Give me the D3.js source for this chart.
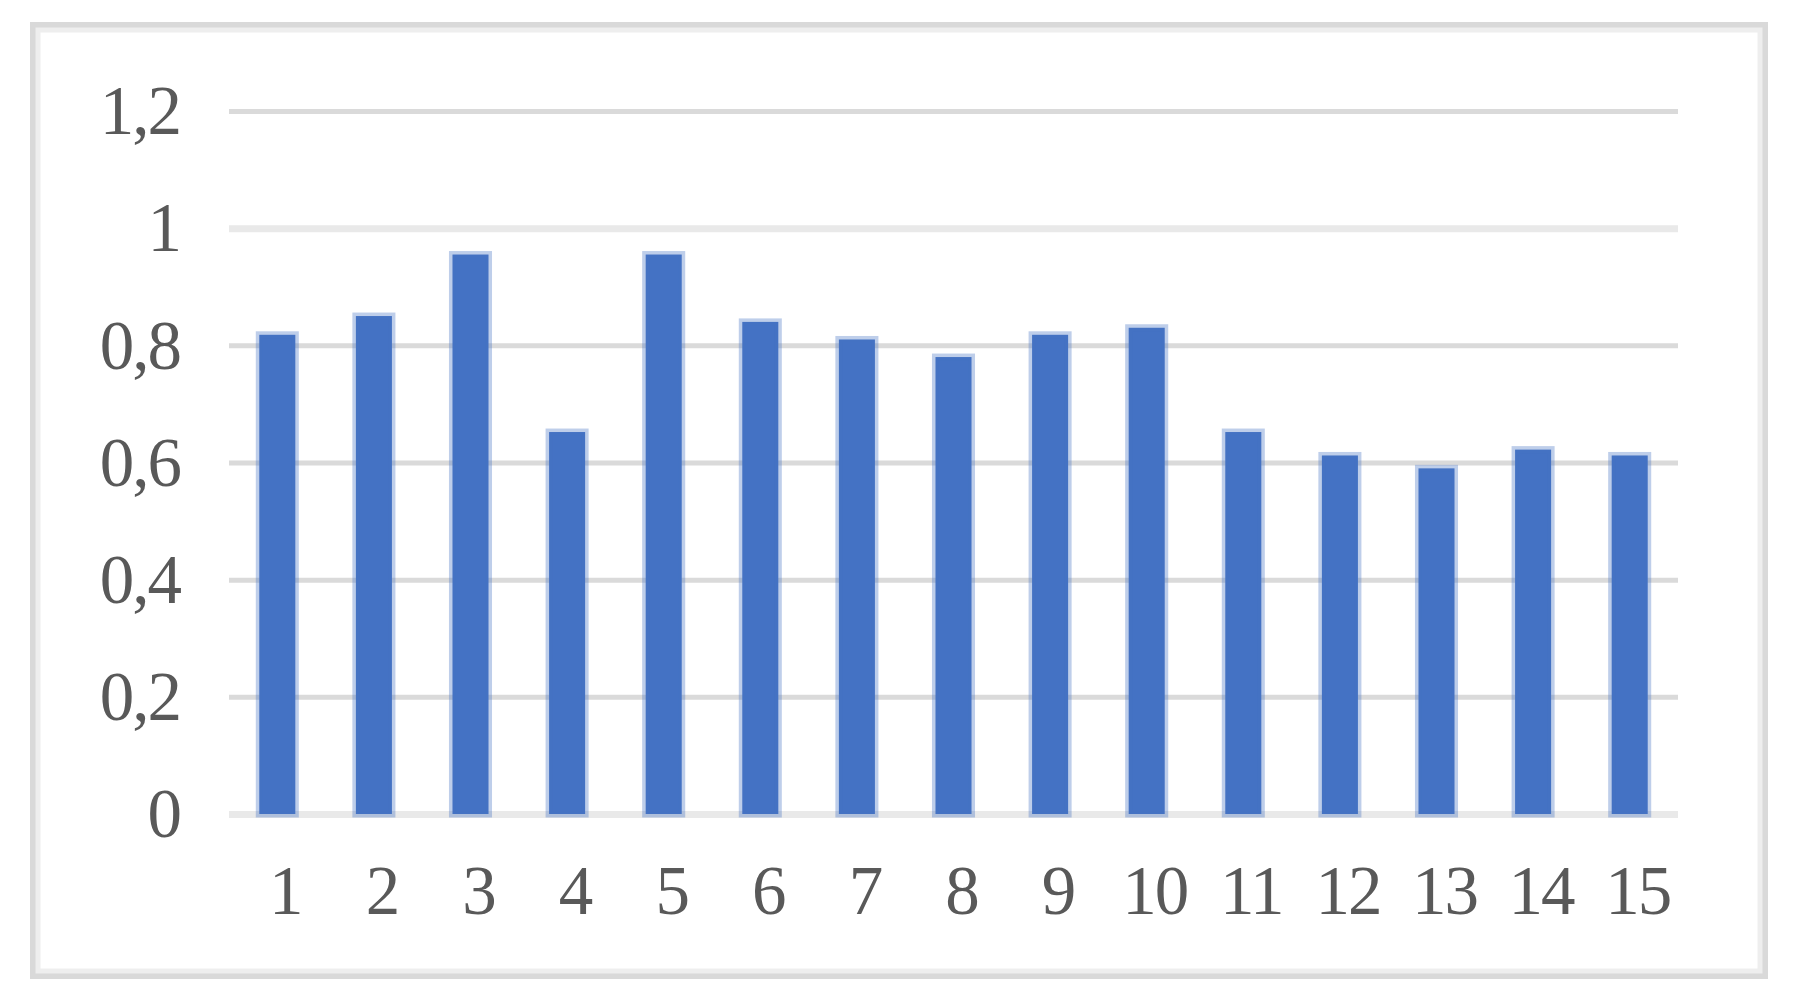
<!DOCTYPE html>
<html>
<head>
<meta charset="utf-8">
<script src="https://cdn.jsdelivr.net/npm/d3@7"></script>
<style>
  body { margin: 0; background: #fff; }
  svg { display: block; }
</style>
</head>
<body>
<script>
// data
const categories = ["1", "2", "3", "4", "5", "6", "7", "8", "9", "10", "11", "12", "13", "14", "15"];
const values = [0.818, 0.85, 0.955, 0.652, 0.955, 0.84, 0.81, 0.78, 0.818, 0.83, 0.652, 0.612, 0.59, 0.622, 0.612];
const yTicks = [0, 0.2, 0.4, 0.6, 0.8, 1, 1.2];

const svgWidth = 1795;
const svgHeight = 1003;
const plot = { left: 229, right: 1678, top: 111, bottom: 814 };

const svg = d3
  .select("body")
  .append("svg")
  .attr("width", svgWidth)
  .attr("height", svgHeight);

// chart frame (soft grey double border)
svg.append("rect")
  .attr("x", 33).attr("y", 25)
  .attr("width", 1732).attr("height", 951)
  .attr("fill", "#fff")
  .attr("stroke", "#d9d9d9")
  .attr("stroke-width", 6);
svg.append("rect")
  .attr("x", 38).attr("y", 30)
  .attr("width", 1722).attr("height", 941)
  .attr("fill", "none")
  .attr("stroke", "#eeeeee")
  .attr("stroke-width", 5);

//scales
const xScale = d3
  .scaleBand()
  .domain(categories)
  .range([plot.left, plot.right])
  .paddingInner(0.627)
  .paddingOuter(0.3135);

const yScale = d3
  .scaleLinear()
  .domain([0, 1.2])
  .range([plot.bottom, plot.top]);

//=====
//gridlines + y labels
//=====
const yAxis = svg
  .append("g")
  .attr("class", "y-axis")
  .attr("transform", `translate(${plot.left}, 0)`)
  .call(
    d3.axisLeft(yScale)
      .tickValues(yTicks)
      .tickSize(-(plot.right - plot.left))
      .tickPadding(49)
      .tickFormat((d) => String(d).replace(".", ","))
  );

yAxis.select(".domain").remove();
yAxis.selectAll(".tick line")
  .attr("stroke", (d) => (d === 0 || d === 1 ? "#e9e9e9" : "#dadada"))
  .attr("stroke-width", (d) => (d === 0 || d === 1 ? 7 : 5));
yAxis.selectAll(".tick text")
  .attr("fill", "#595959")
  .attr("font-family", "'Liberation Serif', 'DejaVu Serif', serif")
  .attr("font-size", 69)
  .attr("letter-spacing", -2)
  .attr("dy", "0.33em");

//=====
//bars
//=====
svg
  .selectAll(".bar")
  .data(values)
  .enter()
  .append("rect")
  .attr("class", "bar")
  .attr("x", (d, i) => xScale(categories[i]))
  .attr("y", (d) => yScale(d))
  .attr("width", xScale.bandwidth())
  .attr("height", (d) => yScale(0) - yScale(d))
  .attr("fill", "#4472c4")
  .attr("stroke", "#4472c4")
  .attr("stroke-opacity", 0.35)
  .attr("stroke-width", 7);

//=====
//x labels
//=====
const xAxis = svg
  .append("g")
  .attr("class", "x-axis")
  .attr("transform", `translate(8, ${plot.bottom})`)
  .call(d3.axisBottom(xScale).tickSize(0).tickPadding(51));

xAxis.select(".domain").remove();
xAxis.selectAll(".tick text")
  .attr("fill", "#595959")
  .attr("font-family", "'Liberation Serif', 'DejaVu Serif', serif")
  .attr("font-size", 69)
  .attr("letter-spacing", -2);
</script>
</body>
</html>
